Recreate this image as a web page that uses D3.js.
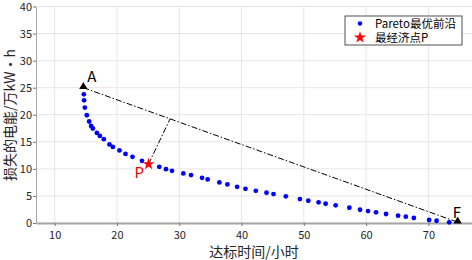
<!DOCTYPE html>
<html>
<head>
<meta charset="utf-8">
<script src="https://cdn.jsdelivr.net/npm/d3@7"></script>
<style>
  body { margin: 0; background: #fff; }
  text { font-family: "Noto Sans CJK SC", "Noto Sans", sans-serif; }
</style>
</head>
<body>
<script>
// Pareto 前沿 (达标时间/小时, 损失电能/万kW·h)
const paretoX = [14.68, 14.72, 14.84, 15.16, 15.53, 15.85, 16.12, 16.77, 17.25, 17.89, 18.79, 19.34,
  20.40, 21.37, 22.49, 24.01, 25.07, 26.79, 27.87, 28.83, 30.65, 31.89, 33.66, 34.56, 36.44, 37.73,
  39.29, 40.63, 42.29, 44.01, 45.13, 47.11, 49.37, 50.72, 52.37, 53.50, 55.11, 57.31, 59.02, 60.31,
  61.59, 63.20, 65.13, 66.37, 67.66, 70.12, 71.31, 73.34]
const paretoY = [23.78, 22.67, 21.33, 19.91, 18.75, 17.94, 17.46, 16.65, 16.09, 15.48, 14.51, 14.06,
  13.40, 12.77, 12.22, 11.48, 10.88, 10.38, 9.95, 9.64, 9.16, 8.85, 8.35, 8.06, 7.50, 7.13,
  6.69, 6.32, 5.95, 5.59, 5.35, 4.92, 4.42, 4.11, 3.82, 3.56, 3.26, 2.82, 2.45, 2.21,
  1.97, 1.66, 1.35, 1.16, 0.92, 0.55, 0.42, 0.13]
const pointA = [14.6, 25.0]
const pointF = [74.7, 0.15]
const pointP = [25.07, 10.88]
const xTicks = [10, 20, 30, 40, 50, 60, 70]
const yTicks = [0, 5, 10, 15, 20, 25, 30, 35, 40]
const legendLabels = ["Pareto最优前沿", "最经济点P"]

const width = 472, height = 260
const margin = { top: 6.5, right: 0, bottom: 37, left: 36 }

const svg = d3.select("body").append("svg")
  .attr("width", width).attr("height", height)

const x = d3.scaleLinear().domain([7, 77]).range([margin.left, width - margin.right])
const y = d3.scaleLinear().domain([0, 40]).range([height - margin.bottom, margin.top])

// grille
svg.append("g").selectAll("line").data(xTicks).enter().append("line")
  .attr("x1", d => x(d)).attr("x2", d => x(d))
  .attr("y1", y(0)).attr("y2", y(40))
  .attr("stroke", "#e6e6e6").attr("stroke-width", 1)
svg.append("g").selectAll("line").data(yTicks).enter().append("line")
  .attr("x1", x(7)).attr("x2", x(77))
  .attr("y1", d => y(d)).attr("y2", d => y(d))
  .attr("stroke", "#e6e6e6").attr("stroke-width", 1)

// axes
const gx = svg.append("g")
  .attr("transform", "translate(0," + y(0) + ")")
  .call(d3.axisBottom(x).tickValues(xTicks).tickSize(3).tickSizeOuter(0))
gx.select(".domain").attr("stroke", "#a6a6a6").attr("stroke-width", 2)
gx.selectAll(".tick line").attr("stroke", "#777")
gx.selectAll("text").attr("font-size", 11).attr("fill", "#262626")
  .attr("font-family", "Liberation Sans, Arial, sans-serif").attr("dy", "0.9em")

const gy = svg.append("g")
  .attr("transform", "translate(" + x(7) + ",0)")
  .call(d3.axisLeft(y).tickValues(yTicks).tickSize(3).tickSizeOuter(0))
gy.select(".domain").attr("stroke", "#a6a6a6").attr("stroke-width", 1)
gy.selectAll(".tick line").attr("stroke", "#777")
gy.selectAll("text").attr("font-size", 11).attr("fill", "#262626")
  .attr("font-family", "Liberation Sans, Arial, sans-serif").attr("x", -4)

// ligne A-F et perpendiculaire P
const dx = pointF[0] - pointA[0], dy = pointF[1] - pointA[1]
const t = ((pointP[0] - pointA[0]) * dx + (pointP[1] - pointA[1]) * dy) / (dx * dx + dy * dy)
const foot = [pointA[0] + t * dx, pointA[1] + t * dy]

svg.append("line")
  .attr("x1", x(pointA[0])).attr("y1", y(pointA[1]))
  .attr("x2", x(pointF[0])).attr("y2", y(pointF[1]))
  .attr("stroke", "#000").attr("stroke-width", 1).attr("stroke-dasharray", "6,2,1.5,2")
svg.append("line")
  .attr("x1", x(pointP[0])).attr("y1", y(pointP[1]))
  .attr("x2", x(foot[0])).attr("y2", y(foot[1]))
  .attr("stroke", "#000").attr("stroke-width", 1).attr("stroke-dasharray", "6,2,1.5,2")

// points Pareto
svg.append("g").selectAll("circle").data(d3.zip(paretoX, paretoY)).enter().append("circle")
  .attr("cx", d => x(d[0])).attr("cy", d => y(d[1]))
  .attr("r", 2.4).attr("fill", "#0000ff")

// triangles A, F
const tri = d3.symbol().type(d3.symbolTriangle).size(30)
svg.selectAll(".tri").data([pointA, pointF]).enter().append("path")
  .attr("d", tri)
  .attr("transform", d => "translate(" + x(d[0]) + "," + (y(d[1]) - 1) + ")")
  .attr("fill", "#000")

// étoile P
const star = d3.symbol().type(d3.symbolStar).size(45)
svg.append("path").attr("d", star)
  .attr("transform", "translate(" + x(pointP[0]) + "," + y(pointP[1]) + ")")
  .attr("fill", "#ff0000")

svg.append("text").attr("x", x(pointA[0]) + 4).attr("y", y(pointA[1]) - 6)
  .attr("font-size", 15).attr("font-family", "Liberation Sans, Arial, sans-serif").text("A")
svg.append("text").attr("x", x(pointF[0]) - 5).attr("y", y(pointF[1]) - 4)
  .attr("font-size", 15).attr("font-family", "Liberation Sans, Arial, sans-serif").text("F")
svg.append("text").attr("x", x(pointP[0]) - 14).attr("y", y(pointP[1]) + 14)
  .attr("font-size", 15).attr("fill", "#ff0000")
  .attr("font-family", "Liberation Sans, Arial, sans-serif").text("P")

// titres des axes
svg.append("text")
  .attr("x", (x(7) + x(77)) / 2).attr("y", 257)
  .attr("text-anchor", "middle").attr("font-size", 14).attr("fill", "#262626")
  .text("达标时间/小时")
svg.append("text")
  .attr("transform", "translate(15,115) rotate(-90)")
  .attr("text-anchor", "middle").attr("font-size", 14).attr("fill", "#262626")
  .text("损失的电能/万kW・h")

// légende
const lg = svg.append("g").attr("transform", "translate(345,16)")
lg.append("rect").attr("width", 117).attr("height", 29)
  .attr("fill", "#fff").attr("stroke", "#262626").attr("stroke-width", 0.8)
lg.append("circle").attr("cx", 15).attr("cy", 7.5).attr("r", 2.2).attr("fill", "#0000ff")
lg.append("path").attr("d", star).attr("transform", "translate(15,21.5)").attr("fill", "#ff0000")
lg.selectAll(".lt").data(legendLabels).enter().append("text")
  .attr("x", 30).attr("y", (d, i) => 7.5 + i * 14).attr("dy", "0.35em")
  .attr("font-size", 11.5).attr("fill", "#000")
  .text(d => d)
</script>
</body>
</html>
